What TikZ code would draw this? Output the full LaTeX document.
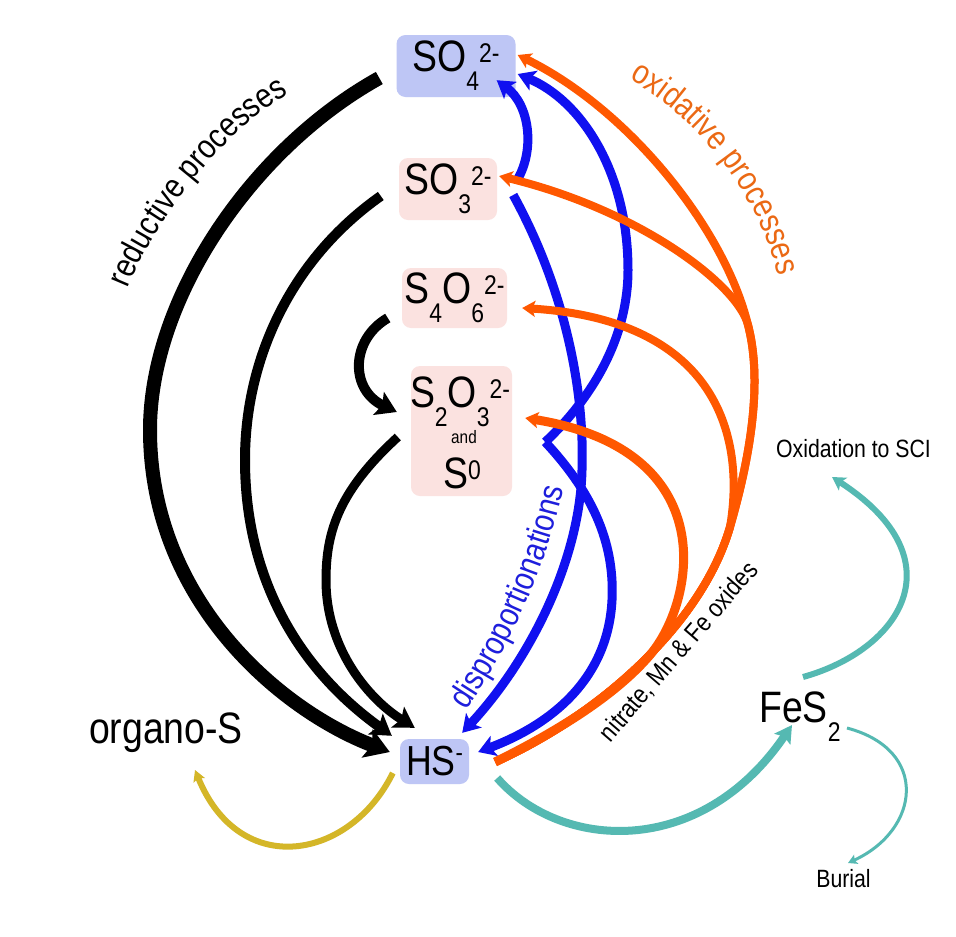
\documentclass[tikz,border=0pt]{standalone}
\usepackage{fontspec}
\setmainfont{Liberation Sans}[FakeStretch=0.85]
\usetikzlibrary{arrows.meta,decorations.text,calc}
\definecolor{ored}{RGB}{255,88,0}
\definecolor{bblue}{RGB}{16,16,240}
\definecolor{tealc}{RGB}{85,185,178}
\definecolor{goldc}{RGB}{212,182,40}
\definecolor{boxblue}{RGB}{190,198,245}
\definecolor{boxpink}{RGB}{251,226,224}
\definecolor{otext}{RGB}{235,105,20}
\definecolor{btext}{RGB}{30,30,220}
\newcommand{\subx}[1]{\raisebox{-19pt}{\fontsize{27}{27}\selectfont #1}}
\newcommand{\supx}[1]{\raisebox{9pt}{\fontsize{27}{27}\selectfont #1}}
\newcommand{\supm}[1]{\raisebox{14pt}{\fontsize{26}{26}\selectfont #1}}
\tikzset{
  chem/.style={rounded corners=9pt, inner sep=0pt, font=\fontsize{44}{44}\selectfont},
  bluebox/.style={chem, fill=boxblue},
  pinkbox/.style={chem, fill=boxpink},
  lbl/.style={inner sep=0pt, anchor=base},
  blk/.style={draw=black, line width=#1},
  blu/.style={draw=bblue, line width=9pt, -{Stealth[length=17pt,width=21pt,inset=4pt]}},
  org/.style={draw=ored, line width=#1, -{Stealth[length=13pt,width=16pt,inset=3pt]}},
}
\begin{document}
\begin{tikzpicture}[x=1pt,y=-1pt]
\useasboundingbox (0,0) rectangle (956,937);
\fill[white] (0,0) rectangle (956,937);
% nodes
\node[bluebox, minimum width=119pt, minimum height=62pt] (so4) at (456,66) {SO\subx{4}\supx{2-}};
\node[pinkbox, minimum width=98pt, minimum height=62pt] (so3) at (448,189) {SO\subx{3}\supx{2-}};
\node[pinkbox, minimum width=105pt, minimum height=60pt] (s4o6) at (454.5,298) {S\subx{4}O\subx{6}\supx{2-}};
\node[pinkbox, minimum width=101pt, minimum height=130pt] (s2o3) at (461.5,431) {};
\node[lbl, font=\fontsize{44}{44}\selectfont] (s2o3t) at (460,407) {S\subx{2}O\subx{3}\supx{2-}};
\node[lbl, font=\fontsize{18}{18}\selectfont] (andt) at (464,443) {and};
\node[lbl, font=\fontsize{44}{44}\selectfont] (s0t) at (462,488) {S\supx{0}};
\node[bluebox, minimum width=69pt, minimum height=45pt, font=\fontsize{42}{42}\selectfont] (hs) at (434.5,761.5) {HS\supm{-}};
\node[lbl, font=\fontsize{44}{44}\selectfont] (orgs) at (166,743) {organo-S};
\node[lbl, font=\fontsize{44}{44}\selectfont] (fes2) at (800,722) {FeS\subx{2}};
\node[lbl, font=\fontsize{25}{25}\selectfont] (oxsci) at (853.5,457) {Oxidation to SCI};
\node[lbl, font=\fontsize{25}{25}\selectfont] (burial) at (843.5,887) {Burial};
\node[lbl, rotate=49.2, font=\fontsize{26}{26}\selectfont] (nit) at (685,657) {nitrate, Mn \& Fe oxides};
% curved labels
\path[decorate, decoration={text along path, text align=center,
  text={|\fontsize{34}{34}\selectfont|reductive processes}}]
  (126,292) .. controls (150,230) and (220,130) .. (292,92);
\path[decorate, decoration={text along path, text align=center,
  text={|\fontsize{34}{34}\selectfont\color{otext}|oxidative processes}}]
  (622,75) .. controls (690,110) and (760,190) .. (780,284);
\path[decorate, decoration={text along path, text align=center,
  text={|\fontsize{34}{34}\selectfont\color{btext}|disproportionations}}]
  (463,716) .. controls (513,643) and (547,565) .. (565,482);
% black reductive arrows
\draw[blk=14pt, -{Stealth[length=24pt,width=30pt,inset=5pt]}]
  ([shift={(-17,12)}]so4.west) .. controls (250,150) and (150,300) .. (150,430)
  .. controls (150,600) and (280,710) .. ([shift={(-10,-9.5)}]hs.west);
\draw[blk=10pt, -{Stealth[length=20pt,width=25pt,inset=4pt]}]
  ([shift={(-18,7)}]so3.west) .. controls (290,260) and (245,360) .. (245,460)
  .. controls (245,580) and (300,670) .. ([shift={(-8,-3)}]hs.north west);
\draw[blk=10pt, -{Stealth[length=20pt,width=25pt,inset=4pt]}]
  ([shift={(-14,20)}]s4o6.west) .. controls (350,340) and (350,390) .. ([shift={(-14,-19)}]s2o3.west);
\draw[blk=9pt, -{Stealth[length=20pt,width=24pt,inset=4pt]}]
  ([shift={(-13,6)}]s2o3.west) .. controls (340,490) and (326,530) .. (326,580)
  .. controls (326,650) and (370,700) .. ([shift={(15,-11)}]hs.north west);
% blue disproportionation arrows
\coordinate (zig) at ([shift={(33,11)}]s2o3.east);
\draw[blu] ([shift={(20,-9)}]so3.east) .. controls (535,150) and (530,105) .. ([shift={(-19,-17)}]so4.south east);
\draw[blu] ([shift={(16,6)}]so3.east) .. controls (560,280) and (585,380) .. (582,470)
  .. controls (580,560) and (530,660) .. ([shift={(-7,-6)}]hs.north east);
\draw[blu] (zig) .. controls (590,400) and (628,340) .. (628,270)
  .. controls (628,170) and (580,100) .. ([shift={(2,8)}]so4.east);
\draw[blu] (zig) .. controls (590,490) and (615,540) .. (612,600)
  .. controls (608,680) and (550,725) .. ([shift={(9,-9.5)}]hs.east);
% orange oxidative arrows
\draw[org=8pt] ([shift={(26,0.5)}]hs.east) .. controls (590,720) and (700,630) .. (730,527)
  .. controls (745,475) and (765,390) .. (748,325)
  .. controls (725,230) and (630,110) .. ([shift={(2,-11)}]so4.east);
\draw[org=8pt] ([shift={(26,0.5)}]hs.east) .. controls (590,720) and (700,630) .. (730,527)
  .. controls (745,475) and (765,390) .. (748,325)
  .. controls (738,285) and (640,210) .. ([shift={(2,-13)}]so3.east);
\draw[org=8pt] ([shift={(26,0.5)}]hs.east) .. controls (590,720) and (700,630) .. (730,527)
  .. controls (745,440) and (720,320) .. ([shift={(15,10)}]s4o6.east);
\draw[org=9pt] ([shift={(26,0.5)}]hs.east) .. controls (570,725) and (620,690) .. (650,655)
  .. controls (695,602) and (725,450) .. ([shift={(13,-13)}]s2o3.east);
% teal pyrite arrows
\draw[draw=tealc, line width=8pt, -{Stealth[length=17pt,width=19pt,inset=3pt]}]
  ([shift={(28,16.5)}]hs.east) .. controls (560,850) and (700,860) .. ([shift={(-8,3)}]fes2.base);
\draw[draw=tealc, line width=6pt, -{Stealth[length=13pt,width=15pt,inset=3pt]}]
  ([shift={(3,-45)}]fes2.base) .. controls (900,650) and (960,560) .. ([shift={(-21.5,20)}]oxsci.base);
\draw[draw=tealc, line width=3pt, -{Stealth[length=9pt,width=10pt,inset=2pt]}]
  ([shift={(47,6)}]fes2.base) .. controls (930,750) and (920,830) .. ([shift={(4.5,-24)}]burial.base);
% gold arrow
\draw[draw=goldc, line width=6pt, -{Stealth[length=11pt,width=12pt,inset=2pt]}]
  ([shift={(-7,11.5)}]hs.west) .. controls (350,860) and (240,880) .. ([shift={(29,27)}]orgs.base);
\end{tikzpicture}
\end{document}
